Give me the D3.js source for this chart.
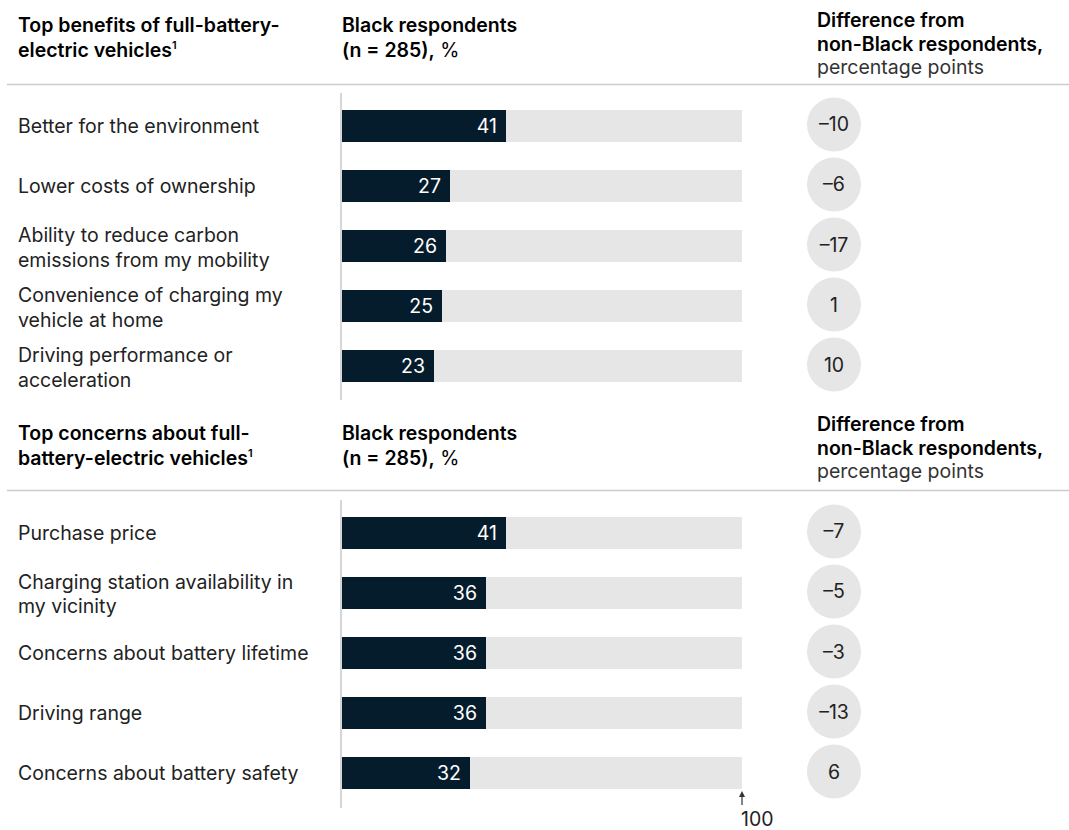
<!DOCTYPE html>
<html>
<head>
<meta charset="utf-8">
<script src="https://cdn.jsdelivr.net/npm/d3@7"></script>
<style>
  html, body { margin: 0; padding: 0; background: #fff; }
  svg { display: block; font-family: Inter, "Liberation Sans", Arial, sans-serif; }
</style>
</head>
<body>
<svg id="chart" width="1069" height="830"></svg>
<script>
// Survey data: share of Black respondents (%) and difference from non-Black respondents (pp)
const benefitLabels = [
  ["Better for the environment"],
  ["Lower costs of ownership"],
  ["Ability to reduce carbon", "emissions from my mobility"],
  ["Convenience of charging my", "vehicle at home"],
  ["Driving performance or", "acceleration"]
];
const benefitValues = [41, 27, 26, 25, 23];
const benefitDiffs = [-10, -6, -17, 1, 10];

const concernLabels = [
  ["Purchase price"],
  ["Charging station availability in", "my vicinity"],
  ["Concerns about battery lifetime"],
  ["Driving range"],
  ["Concerns about battery safety"]
];
const concernValues = [41, 36, 36, 36, 32];
const concernDiffs = [-7, -5, -3, -13, 6];

const axisMax = 100;
const axisMaxLabel = "100";

const NAVY = "#051c2c";
const LIGHT = "#e6e6e6";
const TEXT = "#222222";
const HEAD_SIZE = 19.5;
const BODY_SIZE = 19.5;

const svg = d3.select("#chart");
const x = d3.scaleLinear().domain([0, axisMax]).range([342, 742]);
const fmt = v => (v < 0 ? "\u2013" + Math.abs(v) : String(v));

function drawHeader(g, cfg) {
  // left title
  const t = g.append("text").attr("font-weight", 600)
    .attr("font-size", HEAD_SIZE).attr("fill", "#000");
  cfg.title.forEach((line, i) => {
    t.append("tspan").attr("x", 18).attr("y", cfg.titleY + i * 24.5).text(line);
  });
  t.append("tspan").attr("font-size", 11).attr("dy", -8).text("1");

  // middle column heading
  const m = g.append("text").attr("font-size", HEAD_SIZE).attr("fill", "#000");
  m.append("tspan").attr("x", 342).attr("y", cfg.titleY).attr("font-weight", 600).text("Black respondents");
  m.append("tspan").attr("x", 342).attr("y", cfg.titleY + 24.5).attr("font-weight", 600).text("(n = 285),");
  m.append("tspan").attr("font-weight", 400).text(" %");

  // right column heading
  const r = g.append("text").attr("font-size", HEAD_SIZE).attr("fill", "#000");
  r.append("tspan").attr("x", 817).attr("y", cfg.rightY).attr("font-weight", 600).text("Difference from");
  r.append("tspan").attr("x", 817).attr("y", cfg.rightY + 23.5).attr("font-weight", 600).text("non-Black respondents,");
  r.append("tspan").attr("x", 817).attr("y", cfg.rightY + 47).attr("fill", "#333").text("percentage points");

  g.append("line").attr("x1", 7).attr("x2", 1069)
    .attr("y1", cfg.ruleY).attr("y2", cfg.ruleY)
    .attr("stroke", "#cccccc").attr("stroke-width", 1.5);
}

function drawSection(cfg) {
  const g = svg.append("g");
  drawHeader(g, cfg);

  const idx = d3.range(cfg.values.length);
  const y = d3.scaleBand().domain(idx).range([cfg.y0, cfg.y0 + 300])
    .paddingInner(0.4667).paddingOuter(0.2333);
  const bw = y.bandwidth();

  // baseline axis
  g.append("line").attr("x1", 341).attr("x2", 341)
    .attr("y1", cfg.axisTop).attr("y2", cfg.axisBottom)
    .attr("stroke", "#d6d6d6").attr("stroke-width", 2);

  const rows = g.selectAll("g.row").data(idx).join("g").attr("class", "row");

  // background track to 100
  rows.append("rect")
    .attr("x", x(0)).attr("y", i => y(i))
    .attr("width", x(axisMax) - x(0)).attr("height", bw)
    .attr("fill", LIGHT);

  // value bar
  rows.append("rect")
    .attr("x", x(0)).attr("y", i => y(i))
    .attr("width", i => x(cfg.values[i]) - x(0)).attr("height", bw)
    .attr("fill", NAVY);

  rows.append("text")
    .attr("x", i => x(cfg.values[i]) - 9)
    .attr("y", i => y(i) + bw / 2 + 7)
    .attr("text-anchor", "end").attr("font-size", BODY_SIZE).attr("fill", "#fff")
    .text(i => cfg.values[i]);

  // category labels
  rows.append("text")
    .attr("font-size", BODY_SIZE).attr("fill", TEXT)
    .each(function (i) {
      const lines = cfg.labels[i];
      const c = y(i) + bw / 2;
      const start = lines.length === 1 ? c + 7 : c - 4;
      d3.select(this).selectAll("tspan").data(lines).join("tspan")
        .attr("x", 18).attr("y", (d, k) => start + k * 24.5).text(d => d);
    });

  // difference bubbles
  rows.append("circle")
    .attr("cx", 834).attr("cy", i => y(i) + bw / 2 - 1.5).attr("r", 27)
    .attr("fill", LIGHT);
  rows.append("text")
    .attr("x", 834).attr("y", i => y(i) + bw / 2 + 5.5)
    .attr("text-anchor", "middle").attr("font-size", BODY_SIZE).attr("fill", TEXT)
    .text(i => fmt(cfg.diffs[i]));

  return y;
}

drawSection({
  title: ["Top benefits of full-battery-", "electric vehicles"],
  titleY: 32, rightY: 27, ruleY: 84.5,
  y0: 96, axisTop: 93, axisBottom: 400,
  labels: benefitLabels, values: benefitValues, diffs: benefitDiffs
});

drawSection({
  title: ["Top concerns about full-", "battery-electric vehicles"],
  titleY: 440, rightY: 431, ruleY: 490.5,
  y0: 503, axisTop: 500, axisBottom: 808,
  labels: concernLabels, values: concernValues, diffs: concernDiffs
});

// scale end marker at 100
const mx = x(axisMax);
svg.append("line").attr("x1", mx).attr("x2", mx).attr("y1", 795).attr("y2", 805)
  .attr("stroke", "#333").attr("stroke-width", 1.2);
svg.append("path")
  .attr("d", `M${mx - 3},${797} L${mx},${791} L${mx + 3},${797} Z`)
  .attr("fill", "#333");
svg.append("text").attr("x", mx - 1).attr("y", 826)
  .attr("font-size", BODY_SIZE).attr("fill", TEXT).text(axisMaxLabel);
</script>
</body>
</html>
